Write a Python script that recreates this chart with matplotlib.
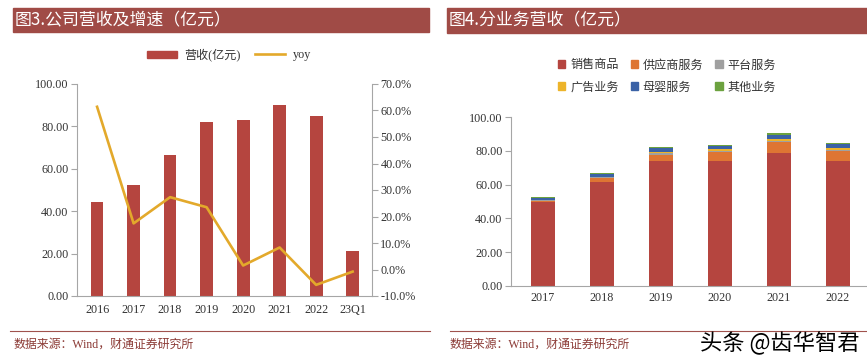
import matplotlib
matplotlib.use("Agg")
import matplotlib.pyplot as plt
from matplotlib.patches import Patch, Rectangle
from matplotlib.lines import Line2D
from matplotlib.ticker import FuncFormatter

# ---- data ----
rev_years = ['2016', '2017', '2018', '2019', '2020', '2021', '2022', '23Q1']
revenue = [44.5, 52.2, 66.5, 82.1, 83.2, 90.1, 84.9, 21.1]
yoy = [61.4, 17.4, 27.3, 23.5, 1.5, 8.3, -5.8, -0.8]

seg_years = ['2017', '2018', '2019', '2020', '2021', '2022']
seg_names = ['销售商品', '供应商服务', '平台服务', '广告业务', '母婴服务', '其他业务']
sales = [49.5, 61.5, 74.0, 73.7, 78.5, 74.0]
supplier = [0.8, 2.3, 3.8, 5.6, 6.5, 5.7]
platform = [0.3, 0.5, 0.7, 0.8, 0.9, 0.9]
ads = [0.2, 0.4, 0.8, 0.8, 1.2, 0.9]
maternal = [1.5, 1.7, 2.5, 2.1, 2.5, 2.8]
other = [0.2, 0.3, 0.5, 0.5, 0.9, 0.5]
segments = [sales, supplier, platform, ads, maternal, other]

seg_colors = ['#B5453F', '#DE7533', '#A0A0A0', '#EDB42A', '#3B62A6', '#6CA23F']
BAR_RED = '#B5453F'
LINE_GOLD = '#E3A92B'
TITLE_BG = '#A04B46'
SPINE = '#A6A6A6'
TXT = '#333333'
FOOT = '#8C3B36'

SERIF = ['Liberation Serif', 'Noto Sans CJK SC']
CJK = ['Noto Sans CJK SC', 'DejaVu Sans']

W, H = 867, 364
fig = plt.figure(figsize=(W / 100, H / 100), dpi=100)


def px_axes(x0, y0, x1, y1):
    # pixel box (top-left origin) -> figure axes
    return fig.add_axes([x0 / W, 1 - y1 / H, (x1 - x0) / W, (y1 - y0) / H])


def title_bar(x0, x1, y0, y1, text):
    fig.patches.append(Rectangle((x0 / W, 1 - y1 / H), (x1 - x0) / W, (y1 - y0) / H,
                                 transform=fig.transFigure, color=TITLE_BG, zorder=0))
    fig.text((x0 + 2) / W, 1 - (y0 + y1) / 2 / H, text, color='white', fontsize=12.2,
             family=CJK, va='center', ha='left')


def style_axis(ax):
    for s in ['top', 'right']:
        ax.spines[s].set_visible(False)
    for s in ['left', 'bottom']:
        ax.spines[s].set_color(SPINE)
        ax.spines[s].set_linewidth(0.8)
    ax.tick_params(axis='y', direction='out', length=4, color=SPINE, labelsize=8.7,
                   labelcolor=TXT, pad=2)
    ax.tick_params(axis='x', length=0, labelsize=8.7, labelcolor=TXT, pad=6)
    for lab in ax.get_xticklabels() + ax.get_yticklabels():
        lab.set_family(SERIF)


# ---- left chart: revenue and yoy ----
title_bar(13, 429, 8, 32, '图3.公司营收及增速（亿元）')

ax1 = px_axes(77, 84, 372, 296)
x1 = range(len(rev_years))
ax1.bar(x1, revenue, width=0.35, color=BAR_RED, zorder=2)
ax1.set_xlim(-0.55, 7.53)
ax1.set_ylim(0, 100)
ax1.set_yticks(range(0, 101, 20))
ax1.yaxis.set_major_formatter(FuncFormatter(lambda v, p: f'{v:.2f}'))
ax1.set_xticks(list(x1))
ax1.set_xticklabels(rev_years)
style_axis(ax1)

ax1r = ax1.twinx()
ax1r.plot(list(x1), yoy, color=LINE_GOLD, lw=1.9, zorder=3)
ax1r.set_ylim(-10, 70)
ax1r.set_yticks(range(-10, 71, 10))
ax1r.yaxis.set_major_formatter(FuncFormatter(lambda v, p: f'{v:.1f}%'))
for s in ['top', 'left', 'bottom']:
    ax1r.spines[s].set_visible(False)
ax1r.spines['right'].set_color(SPINE)
ax1r.spines['right'].set_linewidth(0.8)
ax1r.tick_params(axis='y', direction='out', length=4, color=SPINE, labelsize=8.7,
                 labelcolor=TXT, pad=2)
for lab in ax1r.get_yticklabels():
    lab.set_family(SERIF)

fig.legend(handles=[Patch(color=BAR_RED, label='营收(亿元)'),
                    Line2D([], [], color=LINE_GOLD, lw=1.9, label='yoy')],
           loc='center', bbox_to_anchor=(229 / W, 1 - 55 / H), ncol=2,
           frameon=False, prop={'family': SERIF, 'size': 8.7},
           handlelength=2.5, handleheight=0.55, handletextpad=0.6,
           columnspacing=1.2, labelcolor=TXT)

# ---- right chart: revenue by segment ----
title_bar(447, 867, 8, 33, '图4.分业务营收（亿元）')

ax2 = px_axes(511, 117, 866, 286)
x2 = list(range(len(seg_years)))
bottom = [0.0] * len(seg_years)
for name, vals, col in zip(seg_names, segments, seg_colors):
    ax2.bar(x2, vals, width=0.41, bottom=bottom, color=col, label=name, zorder=2)
    bottom = [b + v for b, v in zip(bottom, vals)]
ax2.set_xlim(-0.54, 5.48)
ax2.set_ylim(0, 100)
ax2.set_yticks(range(0, 101, 20))
ax2.yaxis.set_major_formatter(FuncFormatter(lambda v, p: f'{v:.2f}'))
ax2.set_xticks(x2)
ax2.set_xticklabels(seg_years)
style_axis(ax2)
ax2.tick_params(axis='x', pad=4)

# legend filled column-first -> reorder so rows read like the reference
order = [0, 3, 1, 4, 2, 5]
handles = [Patch(color=seg_colors[i], label=seg_names[i]) for i in order]
fig.legend(handles=handles, loc='center', bbox_to_anchor=(667 / W, 1 - 76 / H), ncol=3,
           frameon=False, prop={'family': CJK, 'size': 8.7},
           handlelength=0.6, handleheight=0.6, handletextpad=0.4,
           columnspacing=1.0, labelspacing=0.75, labelcolor=TXT)

# ---- footers ----
for x0, x1f in [(10, 430), (450, 867)]:
    fig.add_artist(Line2D([x0 / W, x1f / W], [1 - 331 / H, 1 - 331 / H],
                          color='#A0524D', lw=0.8, transform=fig.transFigure))
fig.text(14 / W, 1 - 345 / H, '数据来源：Wind，财通证券研究所', color=FOOT, fontsize=8.6,
         family=SERIF, va='center')
fig.text(450 / W, 1 - 345 / H, '数据来源：Wind，财通证券研究所', color=FOOT, fontsize=8.6,
         family=SERIF, va='center')
fig.text(859 / W, 1 - 343 / H, '头条 @齿华智君', color='black', fontsize=16,
         family=CJK, va='center', ha='right')

fig.savefig('out.png', dpi=100, facecolor='white')
